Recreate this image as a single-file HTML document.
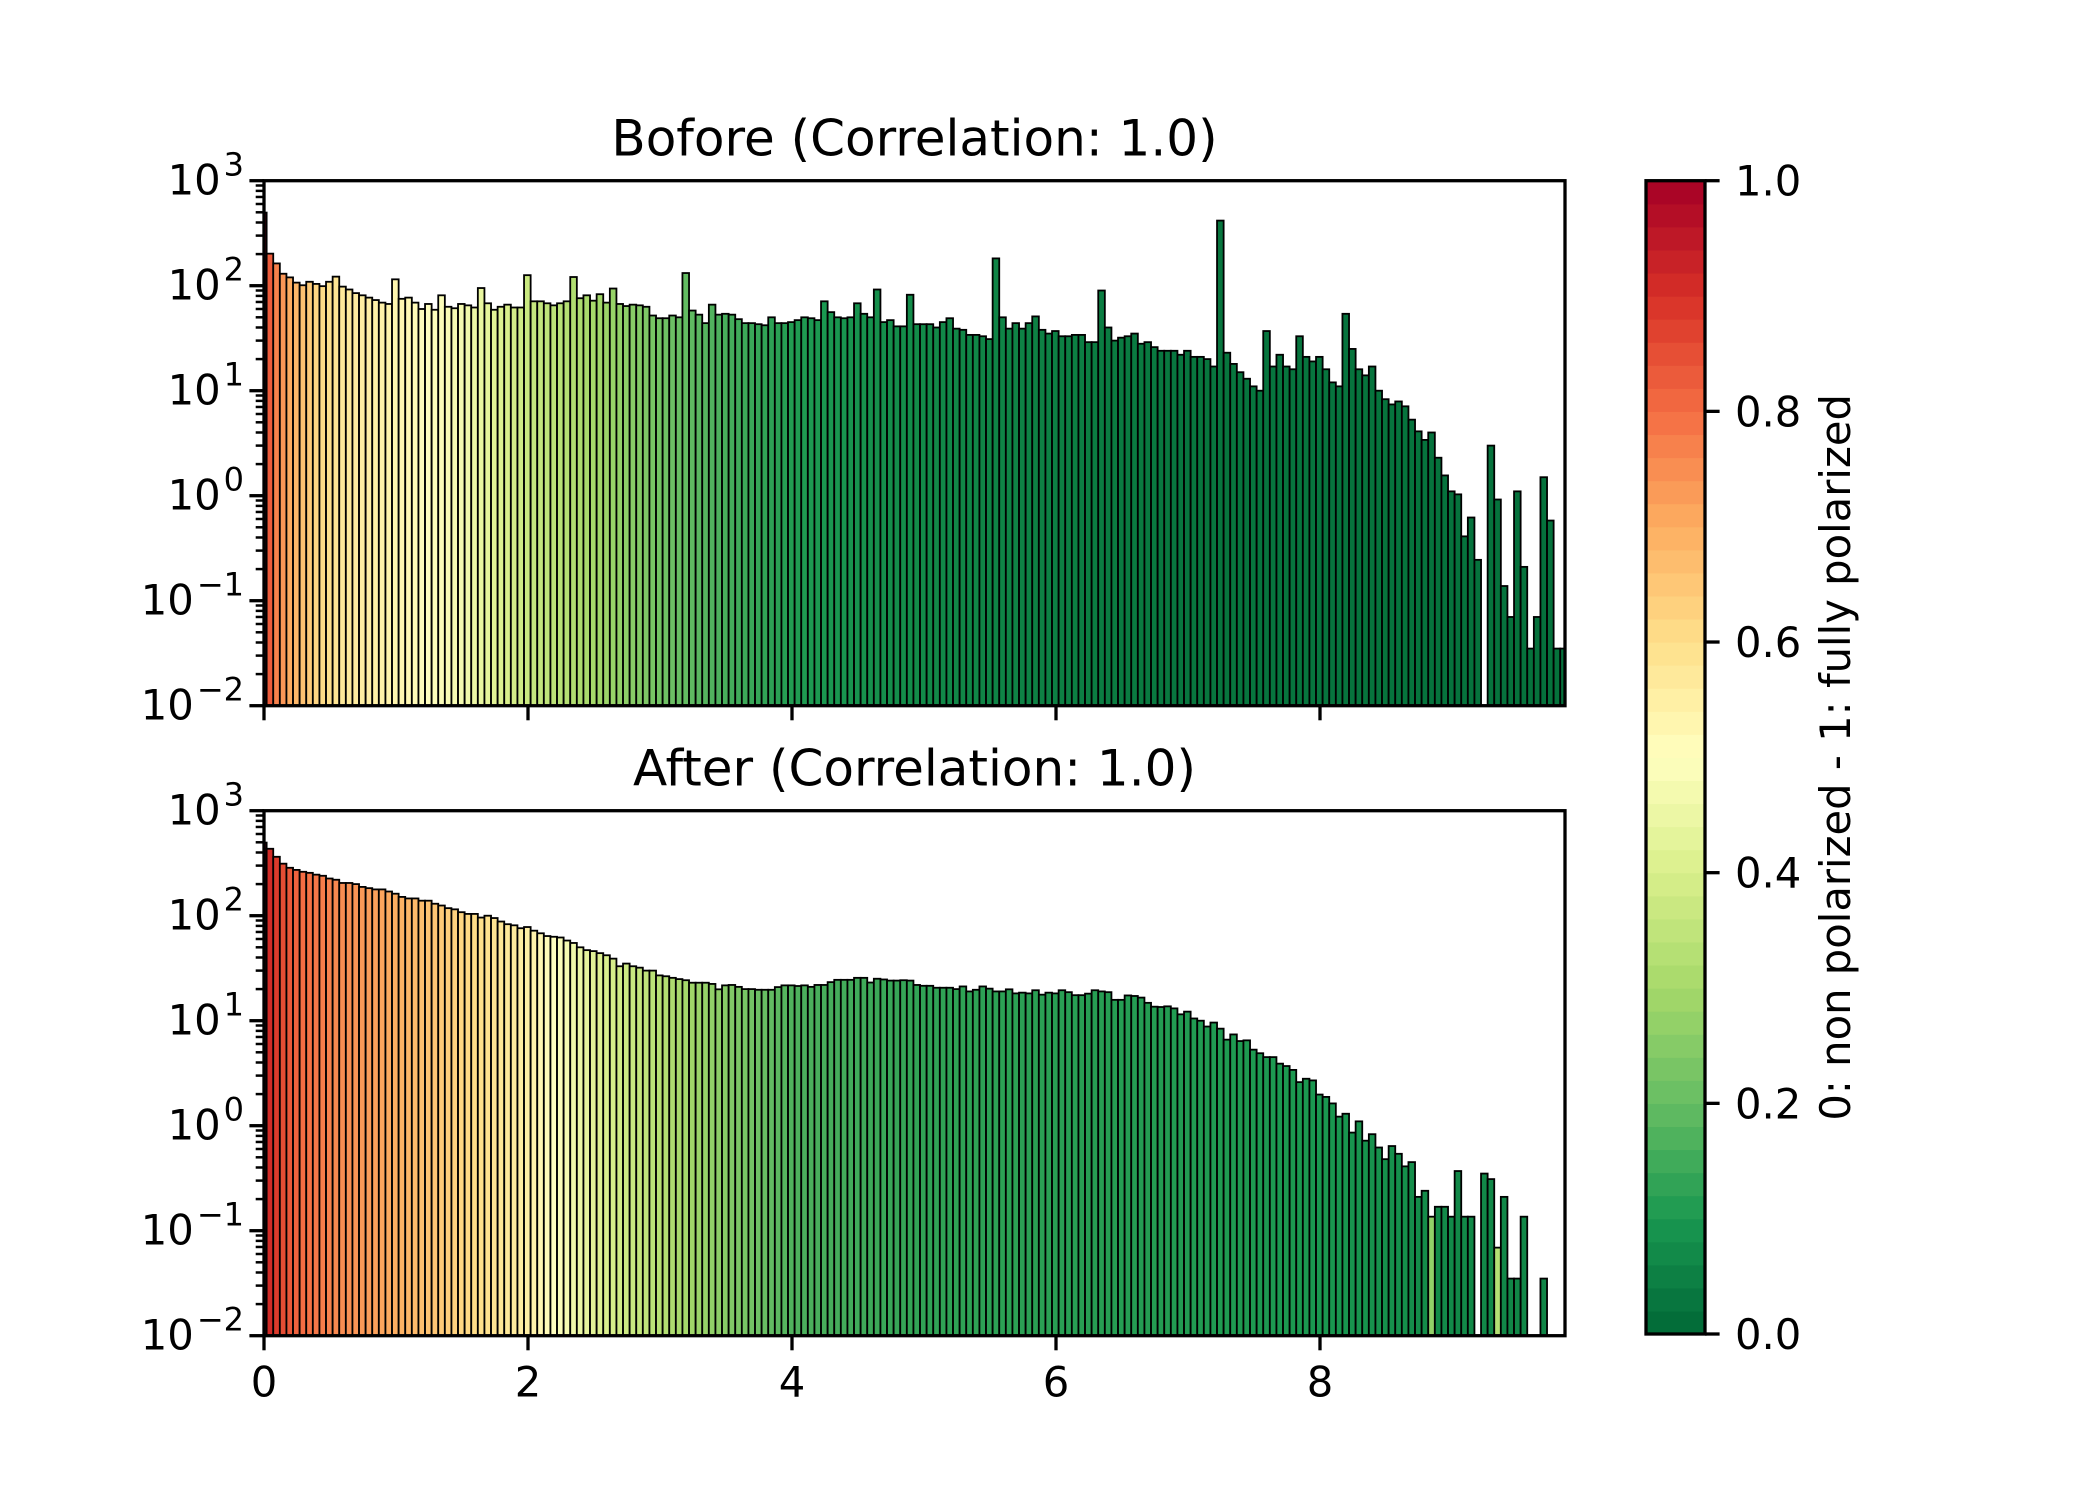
<!DOCTYPE html>
<html><head><meta charset="utf-8"><style>
html,body{margin:0;padding:0;background:#fff;}
svg{display:block;font-family:"DejaVu Sans","Liberation Sans",sans-serif;}
</style></head><body>
<svg id="fig" width="2100" height="1500" viewBox="0 0 2100 1500" xmlns="http://www.w3.org/2000/svg">
<rect x="0" y="0" width="2100" height="1500" fill="#fff"/>
<defs>
<clipPath id="clipTop"><rect x="264" y="180.7" width="1301" height="525"/></clipPath>
<clipPath id="clipBot"><rect x="264" y="810.7" width="1301" height="525"/></clipPath>
</defs>
<g id="layer"></g>
</svg>
<script>
// ---- data ----
const binStart = -0.03;
const binWidth = 0.05;
const beforeCounts = [497,202,163,130,120,107,101,109,104,99,109,122,98,92,85,81,77,73,69,67,
115,75,77,69,60,67,59,81,63,61,67,65,62,95,68,59,63,66,62,62,
126,71,71,68,65,68,71,121,76,81,72,83,69,94,67,64,66,65,63,52,
49,49,52,50,132,58,53,44,66,53,54,53,48,44,44,43,42,50,44,44,
45,47,50,49,47,71,56,50,49,50,68,54,50,92,45,47,41,41,82,43,
43,43,40,45,49,39,38,34,34,33,31,182,50,39,44,39,44,51,38,35,
37,33,33,34,34,29,29,90,40,30,32,33,35,28,29,26,24,24,24,22,
24,21,21,20,17,417,23,18,15,13,11,10,37,17,22,17,16,33,21,19,
21,16,12,11,54,25,16,14,17,10,8.3,7.4,7.9,7.1,5.3,4.1,3.4,4.0,2.3,1.56,
1.1,1.03,0.41,0.62,0.245,0,3.0,0.92,0.138,0.070,1.1,0.21,0.035,0.070,1.5,0.58,0.035,0.035];
const afterCounts = [497,434,364,313,286,273,262,256,246,240,226,220,205,205,200,188,183,178,178,170,
162,151,146,146,139,139,130,125,118,115,108,104,104,96,100,95,88,83,81,76,
78,72,68,64,63,62,58,55,50,47,46,44,42,39,33,35,33,32,30,30,
27,26.5,25.6,24.9,24.3,23,23,23,22.4,19.9,21.7,21.9,21,20,20,19.7,19.7,19.7,20.9,21.7,
21.7,21.4,21.7,21,21.9,21.9,23.3,24.5,24.5,24.5,25.6,25.6,23.1,25.1,24.7,24.1,24.1,24.3,24.1,21.9,
21.5,21.5,20.6,20.6,20.6,20,21.2,19,19.7,21.2,20.2,19,19,19.9,18.2,18.5,18.2,19.5,17.7,18.5,
18.2,19.5,18.7,17.5,17.5,18.1,19.5,19,18.7,15.8,15.8,17.4,17.2,16.6,14.8,13.6,13.5,13.7,13.1,11.5,
12.2,10.5,10,8.8,9.6,8.4,6.6,7.4,6.4,6.5,5.3,4.9,4.5,4.5,3.9,3.7,3.4,2.6,2.8,2.7,
1.98,1.88,1.63,1.22,1.30,0.86,1.10,0.72,0.83,0.62,0.48,0.64,0.54,0.41,0.45,0.21,0.24,0.136,0.169,0.169,
0.136,0.37,0.136,0.136,0,0.35,0.31,0.069,0.21,0.035,0.035,0.136,0,0,0.035,0,0,0];
const beforeColorX = [0,0.03,0.08,0.2,0.4,0.6,1.0,1.5,2.0,2.5,3.0,3.5,4.0,5.0,7.0,10];
const beforeColorV = [1.0,0.85,0.78,0.7,0.62,0.57,0.53,0.47,0.37,0.3,0.22,0.16,0.11,0.07,0.03,0.02];
const afterColorX = [0,0.03,0.15,0.3,0.6,1.0,1.5,2.0,2.5,3.0,3.5,4.0,5.0,7.0,8.0,9.0,10];
const afterColorV = [1.0,0.92,0.85,0.8,0.75,0.7,0.62,0.55,0.42,0.33,0.25,0.17,0.13,0.11,0.1,0.07,0.06];
const afterOverrideBins = [177,187];
const afterOverrideV = [0.27,0.33];
const xTicks = [0,2,4,6,8];
const yExps = [-2,-1,0,1,2,3];
const cbTicks = [0.0,0.2,0.4,0.6,0.8,1.0];
const cbTickLabels = ["0.0","0.2","0.4","0.6","0.8","1.0"];

// ---- geometry ----
const NS = "http://www.w3.org/2000/svg";
const AX_L = 264, AX_R = 1565, AX_H = 525;
const X_PER = 132;
const XMAX = (AX_R - AX_L) / X_PER;
const TOPS = [180.7, 810.7];
const layer = document.getElementById('layer');
function xs(x){ return AX_L + x * X_PER; }
function ys(v, top){ return top + (3 - Math.log10(v)) * (AX_H / 5); }
function mk(tag, attrs, parent){ const e = document.createElementNS(NS, tag); for (const k in attrs) e.setAttribute(k, attrs[k]); (parent||layer).appendChild(e); return e; }

const RD = ["#a50026","#d73027","#f46d43","#fdae61","#fee08b","#ffffbf","#d9ef8b","#a6d96a","#66bd63","#1a9850","#006837"];
function hex2rgb(h){ return [parseInt(h.substr(1,2),16),parseInt(h.substr(3,2),16),parseInt(h.substr(5,2),16)]; }
function cmap(v){
  let t = Math.min(1, Math.max(0, 1 - v)) * 10; const i = Math.min(9, Math.floor(t)); const f = t - i;
  const a = hex2rgb(RD[i]), b = hex2rgb(RD[i+1]);
  return "rgb(" + a.map((c,k)=>Math.round(c + (b[k]-c)*f)).join(",") + ")";
}
function interp(x, X, V){ if (x <= X[0]) return V[0]; for (let i=1;i<X.length;i++){ if (x <= X[i]) { const f=(x-X[i-1])/(X[i]-X[i-1]); return V[i-1]+(V[i]-V[i-1])*f; } } return V[V.length-1]; }

function drawPanel(counts, colX, colV, ovBins, ovV, top, clipId, name, title, showXLabels){
  const g = mk('g', {'clip-path':'url(#'+clipId+')'});
  
  
  counts.forEach((c, i) => {
    if (!(c > 0)) return;
    let x0 = binStart + binWidth * i, x1 = x0 + binWidth;
    const xc = Math.max(0, (x0 + x1) / 2);
    const px0 = xs(Math.max(x0, -0.05)), px1 = xs(Math.min(x1, XMAX + 0.05));
    const py = ys(c, top);
    let v = interp(xc, colX, colV);
    const oi = ovBins.indexOf(i); if (oi >= 0) v = ovV[oi];
    const r = mk('rect', {x:px0, y:py, width:px1-px0, height: top + AX_H - py + 5, fill: cmap(v), stroke:'#000', 'stroke-width':1.8}, g);
    
    
  });
  const sp = mk('rect', {x:AX_L, y:top, width:AX_R-AX_L, height:AX_H, fill:'none', stroke:'#000', 'stroke-width':3.3});
  
  
  yExps.forEach(e => {
    const y = ys(Math.pow(10, e), top);
    mk('line', {x1:AX_L-14.6, x2:AX_L, y1:y, y2:y, stroke:'#000', 'stroke-width':3.3});
    const t = mk('text', {x:AX_L-20, y:y+14, 'font-size':41.7, 'text-anchor':'end', fill:'#000'});
    
    
    const a = document.createElementNS(NS,'tspan'); a.textContent = '10'; t.appendChild(a);
    const b = document.createElementNS(NS,'tspan'); b.setAttribute('dy','-19'); b.setAttribute('dx','3'); b.setAttribute('font-size','32'); b.textContent = (e < 0 ? '\u2212' + (-e) : String(e)); t.appendChild(b);
    if (e < 3) for (let m = 2; m <= 9; m++) {
      const ym = ys(m * Math.pow(10, e), top);
      mk('line', {x1:AX_L-8.3, x2:AX_L, y1:ym, y2:ym, stroke:'#000', 'stroke-width':2.5});
    }
  });
  xTicks.forEach(v => {
    const x = xs(v);
    mk('line', {x1:x, x2:x, y1:top+AX_H, y2:top+AX_H+14.6, stroke:'#000', 'stroke-width':3.3});
    if (showXLabels) {
      const t = mk('text', {x:x, y:top+AX_H+61, 'font-size':41.7, 'text-anchor':'middle', fill:'#000'});
      t.textContent = String(v);
      
      
    }
  });
  const tt = mk('text', {x:(AX_L+AX_R)/2, y:top-25, 'font-size':50, 'text-anchor':'middle', fill:'#000'});
  tt.textContent = title;
  
  
}

drawPanel(beforeCounts, beforeColorX, beforeColorV, [], [], TOPS[0], 'clipTop', 'before', 'Bofore (Correlation: 1.0)', false);
drawPanel(afterCounts, afterColorX, afterColorV, afterOverrideBins, afterOverrideV, TOPS[1], 'clipBot', 'after', 'After (Correlation: 1.0)', true);

const CB_L = 1646, CB_R = 1705, CB_T = 180.7, CB_B = 1334;
const cb = mk('g', {});


const NB = 50;
for (let i = 0; i < NB; i++) {
  const v = (i + 0.5) / NB;
  const y1 = CB_B - (i + 1) / NB * (CB_B - CB_T), y0 = CB_B - i / NB * (CB_B - CB_T);
  mk('rect', {x:CB_L, y:y1, width:CB_R-CB_L, height:y0-y1+0.6, fill:cmap(v)}, cb);
}
mk('rect', {x:CB_L, y:CB_T, width:CB_R-CB_L, height:CB_B-CB_T, fill:'none', stroke:'#000', 'stroke-width':3.3}, cb);
cbTicks.forEach((v, i) => {
  const y = CB_B - v * (CB_B - CB_T);
  mk('line', {x1:CB_R, x2:CB_R+14.6, y1:y, y2:y, stroke:'#000', 'stroke-width':3.3}, cb);
  const t = mk('text', {x:CB_R+30, y:y+15, 'font-size':41.7, fill:'#000'}, cb);
  t.textContent = cbTickLabels[i];
  
  
});
const cl = mk('text', {x:0, y:0, 'font-size':41.7, 'text-anchor':'middle', fill:'#000', transform:'translate(1850,' + ((CB_T+CB_B)/2) + ') rotate(-90)'});
cl.textContent = '0: non polarized - 1: fully polarized';


</script>
</body></html>
